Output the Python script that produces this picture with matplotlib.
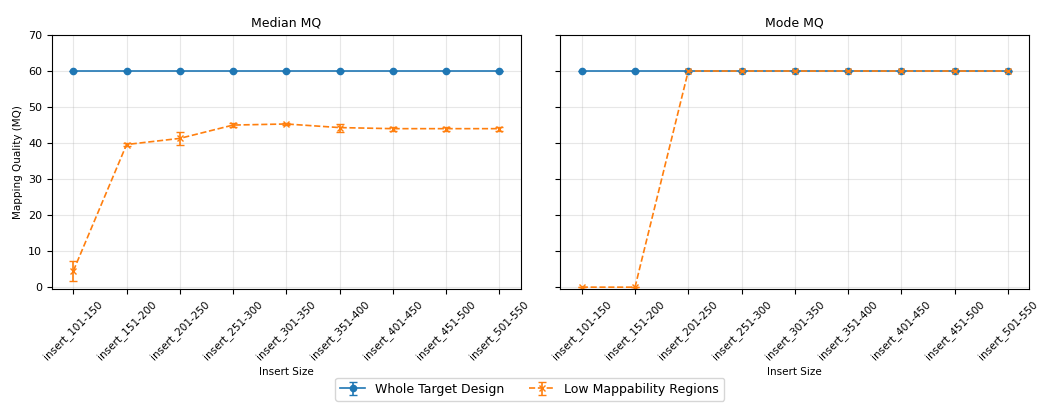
import numpy as np
import matplotlib
matplotlib.use('Agg')
import matplotlib.pyplot as plt

# Dados
insert_sizes = ['insert_101-150', 'insert_151-200', 'insert_201-250', 'insert_251-300',
                'insert_301-350', 'insert_351-400', 'insert_401-450', 'insert_451-500',
                'insert_501-550']

whole_median = [60, 60, 60, 60, 60, 60, 60, 60, 60]
whole_median_err = [0, 0, 0, 0, 0, 0, 0, 0, 0]
low_median = [4.5, 39.6, 41.3, 45.0, 45.3, 44.3, 44.0, 44.0, 44.0]
low_median_err = [2.8, 0.5, 1.8, 0.6, 0.3, 1.1, 0.6, 0.6, 0.6]

whole_mode = [60, 60, 60, 60, 60, 60, 60, 60, 60]
whole_mode_err = [0, 0, 0, 0, 0, 0, 0, 0, 0]
low_mode = [0, 0, 60, 60, 60, 60, 60, 60, 60]
low_mode_err = [0, 0, 0, 0, 0, 0, 0, 0, 0]

x = np.arange(len(insert_sizes))

fig, axes = plt.subplots(1, 2, figsize=(10.49, 4.07), dpi=100, sharey=True)
plt.subplots_adjust(left=0.0496, right=0.981, top=0.914, bottom=0.29, wspace=0.085)

panels = [
    (axes[0], 'Median MQ', whole_median, whole_median_err, low_median, low_median_err),
    (axes[1], 'Mode MQ', whole_mode, whole_mode_err, low_mode, low_mode_err),
]

for ax, title, w, we, l, le in panels:
    ax.errorbar(x, w, yerr=we, fmt='-o', color='#1f77b4', capsize=3,
                markersize=4.5, linewidth=1.2, label='Whole Target Design')
    ax.errorbar(x, l, yerr=le, fmt='--x', color='#ff7f0e', capsize=3,
                markersize=4.5, linewidth=1.2, label='Low Mappability Regions')
    ax.set_title(title, fontsize=9)
    ax.set_xticks(x)
    ax.set_xticklabels(insert_sizes, rotation=45, fontsize=7.5)
    ax.tick_params(axis='y', labelsize=8)
    ax.set_xlabel('Insert Size', fontsize=7.5)
    ax.grid(alpha=0.3)

axes[0].set_ylabel('Mapping Quality (MQ)', fontsize=7.5)
axes[0].set_ylim(-0.5, 70)

handles, labels = axes[0].get_legend_handles_labels()
fig.legend(handles, labels, loc='lower center', ncol=2, fontsize=9,
           bbox_to_anchor=(0.505, 0.0))

plt.savefig('out.png', dpi=100)
